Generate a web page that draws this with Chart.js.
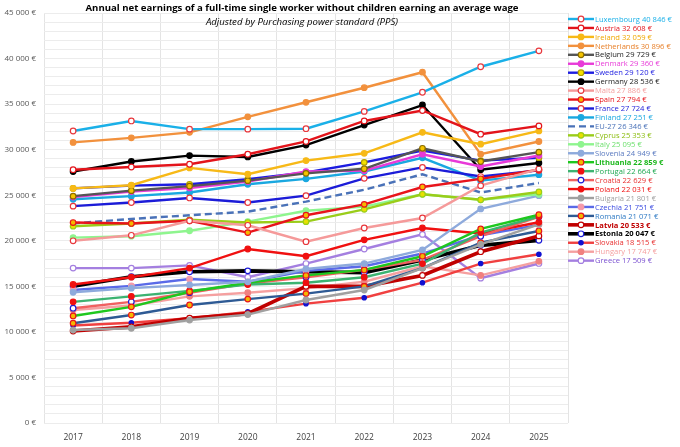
<!DOCTYPE html>
<html>
<head>
<meta charset="utf-8">
<script src="https://cdn.jsdelivr.net/npm/chart.js@4"></script>
<style>
  html, body { margin: 0; padding: 0; background: #fff; }
  #wrap { width: 680px; height: 447px; }
</style>
</head>
<body>
<div id="wrap"><canvas id="chart"></canvas></div>
<script>
// years on the x axis
var years = ['2017', '2018', '2019', '2020', '2021', '2022', '2023', '2024', '2025'];

// net earnings in PPS (euros), one array per country
var luxembourg  = [32050, 33150, 32250, 32250, 32300, 34200, 36300, 39100, 40846];
var austria     = [27800, 28100, 28400, 29500, 30900, 33150, 34300, 31700, 32608];
var ireland     = [25750, 26100, 28000, 27300, 28800, 29600, 31900, 30600, 32059];
var netherlands = [30800, 31300, 31900, 33600, 35200, 36800, 38500, 29500, 30896];
var belgium     = [24900, 25500, 26000, 26600, 27400, 27900, 30150, 28700, 29729];
var denmark     = [24800, 25400, 25800, 26500, 27600, 27700, 29500, 28150, 29360];
var sweden      = [25750, 26050, 26200, 26750, 27500, 28600, 29900, 28800, 29120];
var germany     = [27600, 28700, 29350, 29200, 30500, 32700, 34900, 27800, 28536];
var malta       = [20000, 20600, 22200, 21700, 19900, 21400, 22500, 26050, 27886];
var spain       = [22000, 21900, 22200, 20900, 22800, 24000, 25900, 26800, 27794];
var france      = [23800, 24200, 24700, 24200, 24950, 26850, 28050, 27050, 27724];
var finland     = [24550, 24900, 25300, 26200, 26800, 27600, 29100, 26600, 27251];
var eu27        = [21900, 22400, 22800, 23200, 24300, 25600, 27300, 25300, 26346];
var cyprus      = [21600, 21900, 22300, 22000, 22100, 23450, 25100, 24500, 25353];
var italy       = [20350, 20500, 21100, 22100, 23300, 23750, 25100, 24500, 25095];
var slovenia    = [14350, 14800, 15150, 15500, 16900, 17500, 19000, 23500, 24949];
var lithuania   = [11750, 12750, 14400, 15400, 16200, 16800, 18300, 21300, 22859];
var portugal    = [13300, 13900, 14500, 15200, 15400, 16000, 17500, 20900, 22664];
var croatia     = [12600, 13300, 14300, 15300, 16000, 16800, 17900, 20500, 22629];
var poland      = [15200, 16000, 17000, 19100, 18300, 20100, 21400, 20800, 22031];
var bulgaria    = [10200, 10400, 11300, 11900, 13500, 14600, 17000, 19600, 21801];
var czechia     = [14600, 15050, 15800, 15500, 16700, 17200, 18600, 20600, 21751];
var romania     = [10950, 11850, 12950, 13600, 14200, 15000, 17000, 19800, 21071];
var latvia      = [10100, 10550, 11500, 12000, 15000, 15000, 16200, 18800, 20533];
var estonia     = [15000, 16050, 16600, 16700, 16600, 16500, 17900, 19500, 20047];
var slovakia    = [10700, 11000, 11500, 12200, 13100, 13750, 15400, 17500, 18515];
var hungary     = [12400, 12900, 13900, 14300, 14800, 15500, 17200, 16200, 17747];
var greece      = [17000, 17000, 17300, 16000, 17500, 19100, 20700, 15900, 17509];

// name, values, line colour, marker fill, marker border, label colour, extras
var series = [
  ['Luxembourg', luxembourg, '#1ab0e8', '#ffffff', '#e8383d', '#1ab0e8'],
  ['Austria', austria, '#e3141b', '#ffffff', '#e3141b', '#e3141b'],
  ['Ireland', ireland, '#f7b917', '#f7b917', '#f7b917', '#f0a800'],
  ['Netherlands', netherlands, '#f2913d', '#f2913d', '#f2913d', '#e8802a'],
  ['Belgium', belgium, '#555555', '#f5c400', '#8a6d00', '#222222'],
  ['Denmark', denmark, '#e83ad8', '#e83ad8', '#e83ad8', '#e83ad8'],
  ['Sweden', sweden, '#1c1ce0', '#f5e000', '#b0a000', '#1c1ce0'],
  ['Germany', germany, '#000000', '#000000', '#000000', '#222222'],
  ['Malta', malta, '#f59a9a', '#ffffff', '#e8383d', '#f5a0a0'],
  ['Spain', spain, '#e8141b', '#f5b800', '#e8141b', '#e8141b'],
  ['France', france, '#1c1cd8', '#ffffff', '#e8383d', '#1c1cd8'],
  ['Finland', finland, '#1aa8e0', '#1aa8e0', '#1aa8e0', '#1aa8e0'],
  ['EU-27', eu27, '#4a72b8', '#4a72b8', '#4a72b8', '#4a72b8', {dash: true}],
  ['Cyprus', cyprus, '#9acd1a', '#e8e000', '#9acd1a', '#8cbd10'],
  ['Italy', italy, '#8ef58e', '#8ef58e', '#8ef58e', '#6ee06e'],
  ['Slovenia', slovenia, '#8eaadc', '#8eaadc', '#8eaadc', '#5a7ac0'],
  ['Lithuania', lithuania, '#1ec81e', '#f5b800', '#e8141b', '#1eb81e', {bold: true}],
  ['Portugal', portugal, '#3cb371', '#f01010', '#f01010', '#1ea850'],
  ['Croatia', croatia, '#f06060', '#ffffff', '#1c1cd8', '#e83030'],
  ['Poland', poland, '#f01010', '#f01010', '#f01010', '#f01010'],
  ['Bulgaria', bulgaria, '#a0a0a0', '#a0a0a0', '#a0a0a0', '#a0a0a0'],
  ['Czechia', czechia, '#5a6ae8', '#f59aaa', '#f59aaa', '#3a4ae0'],
  ['Romania', romania, '#2e5a94', '#f5b800', '#e8141b', '#2e7ac4'],
  ['Latvia', latvia, '#c00000', '#ffffff', '#c00000', '#c00000', {bold: true, wide: true}],
  ['Estonia', estonia, '#000000', '#ffffff', '#1c1cd8', '#000000', {bold: true, wide: true}],
  ['Slovakia', slovakia, '#f04040', '#1010d0', '#1010d0', '#e83030', {small: true}],
  ['Hungary', hungary, '#f5a0a0', '#f08080', '#f08080', '#f5a0a0'],
  ['Greece', greece, '#a47fe0', '#ffffff', '#a47fe0', '#7a50d0']
];

function fmt(v) {
  return String(Math.round(v)).replace(/\B(?=(\d{3})+(?!\d))/g, ' ') + ' €';
}

var FONT = '"Open Sans", "Noto Sans", sans-serif';

var datasets = series.map(function (s) {
  var ex = s[6] || {};
  return {
    label: s[0] + ' ' + fmt(s[1][s[1].length - 1]),
    data: s[1],
    borderColor: s[2],
    backgroundColor: s[3],
    pointBackgroundColor: s[3],
    pointBorderColor: s[4],
    pointBorderWidth: 1.2,
    pointRadius: ex.dash ? 0 : (ex.small ? 2.2 : 2.8),
    borderWidth: ex.wide ? 3.6 : 2.4,
    borderDash: ex.dash ? [7, 4] : [],
    tension: 0,
    textColor: s[5],
    bold: !!ex.bold
  };
});

// draws title, subtitle and the right-hand legend
var decor = {
  id: 'decor',
  afterDraw: function (chart) {
    var ctx = chart.ctx;
    ctx.save();
    ctx.textBaseline = 'middle';
    ctx.textAlign = 'center';
    ctx.fillStyle = '#000';
    ctx.font = 'bold 9.6px ' + FONT;
    ctx.fillText('Annual net earnings of a full-time single worker without children earning an average wage', 302, 8);
    ctx.font = 'italic 9.6px ' + FONT;
    ctx.fillText('Adjusted by Purchasing power standard (PPS)', 302, 22);

    ctx.textAlign = 'left';
    chart.data.datasets.forEach(function (ds, i) {
      var y = 19 + i * 8.95;
      ctx.strokeStyle = ds.borderColor;
      ctx.lineWidth = ds.borderWidth;
      ctx.setLineDash(ds.borderDash);
      ctx.beginPath();
      ctx.moveTo(568, y);
      ctx.lineTo(594, y);
      ctx.stroke();
      ctx.setLineDash([]);
      if (ds.pointRadius > 0) {
        ctx.beginPath();
        ctx.arc(581, y, ds.pointRadius, 0, Math.PI * 2);
        ctx.fillStyle = ds.pointBackgroundColor;
        ctx.fill();
        ctx.lineWidth = 1.2;
        ctx.strokeStyle = ds.pointBorderColor;
        ctx.stroke();
      }
      ctx.fillStyle = ds.textColor;
      ctx.font = (ds.bold ? 'bold ' : '') + '7.6px ' + FONT;
      ctx.fillText(ds.label, 595, y + 0.5);
    });
    ctx.restore();
  }
};

new Chart(document.getElementById('chart'), {
  type: 'line',
  data: { labels: years, datasets: datasets },
  plugins: [decor],
  options: {
    responsive: true,
    maintainAspectRatio: false,
    animation: false,
    layout: { padding: { top: 13, right: 112, left: 0, bottom: 0 } },
    plugins: {
      legend: { display: false },
      title: { display: false },
      tooltip: { enabled: false }
    },
    scales: {
      x: {
        offset: true,
        grid: { offset: true, color: '#e4e4e4', drawTicks: false },
        border: { display: false },
        ticks: { color: '#404040', font: { family: FONT, size: 8.5 }, padding: 9 },
        afterFit: function (s) { s.height = 24; }
      },
      y: {
        min: 0,
        max: 45000,
        grid: { color: '#ececec', drawTicks: false },
        border: { display: false },
        ticks: {
          stepSize: 1000,
          autoSkip: false,
          color: '#595959',
          font: { family: FONT, size: 8 },
          padding: 8,
          callback: function (v) { return v % 5000 === 0 ? fmt(v) : ''; }
        },
        afterFit: function (s) { s.width = 44; }
      }
    }
  }
});
</script>
</body>
</html>
